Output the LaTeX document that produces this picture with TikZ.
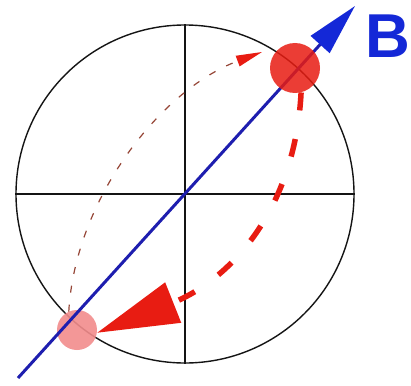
\documentclass[tikz,border=0pt]{standalone}
\usepackage{fontspec}
\setmainfont{Liberation Sans}
\usetikzlibrary{arrows.meta}
\definecolor{ringblack}{RGB}{20,20,20}
\definecolor{spinred}{RGB}{232,28,18}
\definecolor{spinpink}{RGB}{242,140,140}
\definecolor{fieldblue}{RGB}{30,30,175}
\definecolor{labelblue}{RGB}{20,40,215}
\definecolor{thinred}{RGB}{150,70,55}
\tikzset{
  axis/.style={draw=ringblack, line width=1.4pt},
  spin/.style={circle, inner sep=0pt, draw=none},
  bigdash/.style={draw=spinred, line width=5.5pt, dash pattern=on 18pt off 29pt,
    -{Triangle[length=82pt,width=42pt,fill=spinred]}},
  thindash/.style={draw=thinred, line width=1.2pt, dash pattern=on 7pt off 12pt,
    -{Triangle[length=26pt,width=11pt,color=spinred,fill=spinred]}},
}
\begin{document}
\begin{tikzpicture}[x=1pt,y=-1pt]
\useasboundingbox (0,0) rectangle (411,385);
\fill[white] (0,0) rectangle (411,385);
% ring and axes
\node[circle, draw=ringblack, line width=1.4pt, minimum size=338pt, inner sep=0pt] (ring) at (185,194) {};
\draw[axis] (ring.west) -- (ring.east);
\draw[axis] (ring.north) -- (ring.south);
% field line
\coordinate (bstart) at (18,378);
\coordinate (btip) at (355,6);
% spins
\node[spin, fill=spinpink, fill opacity=0.9, minimum size=40pt] (low) at (77,330) {};
\draw[fieldblue, line width=3pt, -{Triangle[length=52pt,width=25pt,color=labelblue,fill=labelblue]}] (bstart) -- (btip);
\node[spin, fill=spinred, fill opacity=0.85, minimum size=50pt] (up) at (295,68) {};
% label
\node[text=labelblue, font=\bfseries\fontsize{62}{62}\selectfont, inner sep=0pt] (B) at (388,36) {B};
% precession paths
\coordinate (t1) at (262,52);
\draw[thindash] (low.114) .. controls (75,200) and (160,90) .. (t1);
\draw[bigdash] (up.-76) .. controls (295,210) and (230,280) .. (low.-8);
\end{tikzpicture}
\end{document}
